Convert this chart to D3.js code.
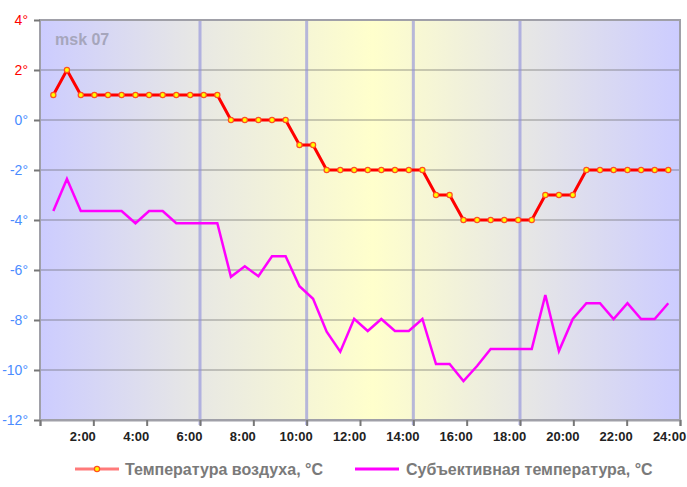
<!DOCTYPE html>
<html><head><meta charset="utf-8">
<script src="https://cdn.jsdelivr.net/npm/d3@7"></script>
<style>html,body{margin:0;padding:0;background:#fff;}svg{display:block;font-family:"Liberation Sans",Arial,sans-serif;}</style>
</head><body><svg id="c" width="687" height="487"></svg>
<script>
// observation times (hours)
const times = [0.50,1.01,1.53,2.04,2.55,3.06,3.58,4.09,4.60,5.11,5.63,6.14,6.65,7.16,7.68,8.19,8.70,9.21,9.73,10.24,10.75,11.26,11.78,12.29,12.80,13.31,13.83,14.34,14.85,15.36,15.88,16.39,16.90,17.41,17.93,18.44,18.95,19.46,19.98,20.49,21.00,21.51,22.03,22.54,23.05,23.56];
const airTemp = [1,2,1,1,1,1,1,1,1,1,1,1,1,0,0,0,0,0,-1,-1,-2,-2,-2,-2,-2,-2,-2,-2,-3,-3,-4,-4,-4,-4,-4,-4,-3,-3,-3,-2,-2,-2,-2,-2,-2,-2];
const feelTemp = [-3.64,-2.36,-3.64,-3.64,-3.64,-3.64,-4.13,-3.64,-3.64,-4.13,-4.13,-4.13,-4.13,-6.27,-5.85,-6.25,-5.45,-5.45,-6.65,-7.15,-8.47,-9.27,-7.95,-8.44,-7.96,-8.44,-8.44,-7.96,-9.76,-9.76,-10.44,-9.84,-9.16,-9.16,-9.16,-9.16,-7.0,-9.24,-7.96,-7.33,-7.33,-7.96,-7.33,-7.96,-7.96,-7.33];
const yTicks = [4,2,0,-2,-4,-6,-8,-10,-12];
const xTicks = [0,2,4,6,8,10,12,14,16,18,20,22,24];
const xTickLabels = ["","2:00","4:00","6:00","8:00","10:00","12:00","14:00","16:00","18:00","20:00","22:00","24:00"];
const markerLines = [6,10,14,18];
const seriesNames = ["Температура воздуха, °C","Субъективная температура, °C"];
const stationLabel = "msk 07";

const svg = d3.select("#c");
const L=40,R=680,T=20,B=420;
const x = d3.scaleLinear().domain([0,24]).range([L,R]);
const y = d3.scaleLinear().domain([-12,4]).range([B,T]);

// background gradient
const defs = svg.append("defs");
const g = defs.append("linearGradient").attr("id","bg").attr("x1","0").attr("x2","1").attr("y1","0").attr("y2","0");
[[0,"#ccccff"],[0.25,"#e8e8e4"],[0.52,"#ffffcc"],[0.75,"#e8e8e4"],[1,"#ccccff"]].forEach(s=>g.append("stop").attr("offset",s[0]).attr("stop-color",s[1]));
svg.append("rect").attr("x",L).attr("y",T).attr("width",R-L).attr("height",B-T).attr("fill","url(#bg)");

// station label
svg.append("text").attr("x",55).attr("y",45).attr("font-size",16).attr("font-weight","bold").attr("fill","#a6a6bc").text(stationLabel);

// horizontal grid
svg.append("g").selectAll("line").data(yTicks.filter(d=>d>-12&&d<4)).join("line")
  .attr("x1",L).attr("x2",R).attr("y1",d=>y(d)).attr("y2",d=>y(d))
  .attr("stroke","rgba(90,90,90,0.3)").attr("stroke-width",2);

// vertical marker lines
svg.append("g").selectAll("line").data(markerLines).join("line")
  .attr("x1",d=>x(d)).attr("x2",d=>x(d)).attr("y1",T).attr("y2",B+5)
  .attr("stroke","rgba(140,140,220,0.6)").attr("stroke-width",3);

// frame
svg.append("rect").attr("x",L).attr("y",T).attr("width",R-L).attr("height",B-T)
  .attr("fill","none").attr("stroke","#a0a0a8").attr("stroke-width",2);

// y axis
const yAxis = d3.axisLeft(y).tickValues(yTicks).tickSize(6).tickPadding(6).tickFormat(d=>d+"°");
const ya = svg.append("g").attr("transform",`translate(${L},0)`).call(yAxis);
ya.select(".domain").remove();
ya.selectAll(".tick line").attr("stroke","#777").attr("stroke-width",2);
ya.selectAll(".tick text").attr("font-size",14).attr("font-family","Liberation Sans, Arial, sans-serif")
  .attr("fill",d=>d>0?"#ff0000":"#4a8cff");

// x axis
const xAxis = d3.axisBottom(x).tickValues(xTicks).tickSize(6).tickPadding(6).tickFormat((d,i)=>xTickLabels[i]);
const xa = svg.append("g").attr("transform",`translate(0,${B})`).call(xAxis);
xa.select(".domain").attr("stroke","#a0a0a8").attr("stroke-width",2);
xa.selectAll(".tick line").attr("stroke","#777").attr("stroke-width",2);
xa.selectAll(".tick text").attr("font-size",13).attr("font-weight","bold").attr("fill","#222")
  .attr("font-family","Liberation Sans, Arial, sans-serif").attr("dx",-11);

// lines
const feel = times.map((t,i)=>[t,feelTemp[i]]);
const air = times.map((t,i)=>[t,airTemp[i]]);
const line = d3.line().x(d=>x(d[0])).y(d=>y(d[1]));
svg.append("path").datum(feel).attr("d",line).attr("fill","none").attr("stroke","#ff00ff").attr("stroke-width",2.5).attr("stroke-linejoin","miter");
svg.append("path").datum(air).attr("d",line).attr("fill","none").attr("stroke","#ff0000").attr("stroke-width",3);
svg.append("g").selectAll("circle").data(air).join("circle")
  .attr("cx",d=>x(d[0])).attr("cy",d=>y(d[1])).attr("r",2.6)
  .attr("fill","#ffff00").attr("stroke","#ff5020").attr("stroke-width",1.2);

// legend
const lg = svg.append("g");
lg.append("line").attr("x1",75).attr("x2",119).attr("y1",469).attr("y2",469).attr("stroke","#ff7a7a").attr("stroke-width",3);
lg.append("circle").attr("cx",97).attr("cy",469).attr("r",2.6).attr("fill","#ffff00").attr("stroke","#ff5020").attr("stroke-width",1.2);
lg.append("text").attr("x",125).attr("y",475).attr("font-size",16).attr("font-weight","bold").attr("fill","#7a7a7a").text(seriesNames[0]);
lg.append("line").attr("x1",355).attr("x2",399).attr("y1",469).attr("y2",469).attr("stroke","#ff00ff").attr("stroke-width",3);
lg.append("text").attr("x",406).attr("y",475).attr("font-size",16).attr("font-weight","bold").attr("fill","#7a7a7a").text(seriesNames[1]);
</script></body></html>
